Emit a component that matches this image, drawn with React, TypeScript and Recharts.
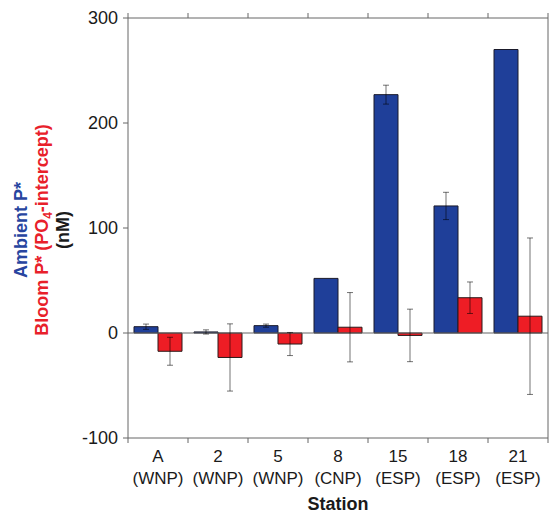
import { BarChart, Bar, XAxis, YAxis, ErrorBar, ReferenceLine } from 'recharts';

const stations = ['A', '2', '5', '8', '15', '18', '21'];
const regions = ['WNP', 'WNP', 'WNP', 'CNP', 'ESP', 'ESP', 'ESP'];
const ambientP = [6, 1, 7, 52, 227, 121, 270];
const ambientErr = [2.5, 2, 1.5, null, 9, 13, null];
const bloomP = [-17.4, -23.3, -10.5, 5.5, -2.3, 33.6, 16];
const bloomErr = [13.3, 32, 11, 33, 25, 15, 74.5];
const yTicks = [-100, 0, 100, 200, 300];

const data = stations.map((station, i) => ({
  station,
  ambient: ambientP[i],
  ambientErr: ambientErr[i],
  bloom: bloomP[i],
  bloomErr: bloomErr[i],
}));

const W = 556;
const H = 526;
const LEFT_W = 128;
const TOP_H = 18;
const RIGHT_W = 8;
const BOTTOM_H = 88;
const PLOT_TOP = TOP_H;
const PLOT_BOTTOM = H - BOTTOM_H;

const FONT = '"Liberation Sans", Arial, sans-serif';
const FRAME = '#666';
const TEXT = '#1a1a1a';
const BLUE = '#1f3f99';
const RED = '#ee1d25';

// category ticks sit on the boundaries between stations, not the centres
function BottomTick(props: any) {
  const { x, payload, index, width, visibleTicksCount } = props;
  const band = width / visibleTicksCount;
  const left = x - band / 2;
  const last = index === visibleTicksCount - 1;
  return (
    <g>
      <line x1={left} x2={left} y1={PLOT_BOTTOM} y2={PLOT_BOTTOM + 5} stroke={FRAME} />
      {last && (
        <line x1={x + band / 2} x2={x + band / 2} y1={PLOT_BOTTOM} y2={PLOT_BOTTOM + 5} stroke={FRAME} />
      )}
      <text textAnchor="middle" fontFamily={FONT} fontSize={17} fill={TEXT}>
        <tspan x={x} y={PLOT_BOTTOM + 24}>{payload.value}</tspan>
        <tspan x={x} y={PLOT_BOTTOM + 46}>({regions[index]})</tspan>
      </text>
    </g>
  );
}

function TopTick(props: any) {
  const { x, index, width, visibleTicksCount } = props;
  const band = width / visibleTicksCount;
  const left = x - band / 2;
  const last = index === visibleTicksCount - 1;
  return (
    <g>
      <line x1={left} x2={left} y1={PLOT_TOP} y2={PLOT_TOP - 5} stroke={FRAME} />
      {last && (
        <line x1={x + band / 2} x2={x + band / 2} y1={PLOT_TOP} y2={PLOT_TOP - 5} stroke={FRAME} />
      )}
    </g>
  );
}

function YLabel() {
  const cy = 230;
  return (
    <g fontFamily={FONT} fontSize={18} fontWeight="bold" textAnchor="middle">
      <text transform="rotate(-90)" x={-cy} y={27} fill="#2745a0">
        Ambient P*
      </text>
      <text transform="rotate(-90)" x={-cy} y={48} fill="#e8202a">
        Bloom P* (PO
        <tspan fontSize={12} dy={4}>4</tspan>
        <tspan dy={-4}>-intercept)</tspan>
      </text>
      <text transform="rotate(-90)" x={-cy} y={69} fill={TEXT}>
        (nM)
      </text>
    </g>
  );
}

function StationLabel() {
  const cx = LEFT_W + (W - LEFT_W - RIGHT_W) / 2;
  return (
    <text x={cx} y={PLOT_BOTTOM + 72} textAnchor="middle" fontFamily={FONT} fontSize={18} fontWeight="bold" fill={TEXT}>
      Station
    </text>
  );
}

export default function App() {
  return (
    <div style={{ position: 'absolute', left: 0, top: 0, background: '#fff' }}>
      <BarChart
        width={W}
        height={H}
        data={data}
        margin={{ top: 0, right: 0, bottom: 0, left: 0 }}
        barCategoryGap="10%"
        barGap={0}
      >
        <XAxis
          dataKey="station"
          height={BOTTOM_H}
          interval={0}
          tickLine={false}
          axisLine={{ stroke: FRAME }}
          tick={BottomTick}
          label={<StationLabel />}
        />
        <XAxis
          xAxisId="top"
          orientation="top"
          dataKey="station"
          height={TOP_H}
          interval={0}
          tickLine={false}
          axisLine={{ stroke: FRAME }}
          tick={TopTick}
        />
        <YAxis
          domain={[-100, 300]}
          ticks={yTicks}
          width={LEFT_W}
          tickSize={5}
          tickMargin={5}
          axisLine={{ stroke: FRAME }}
          tickLine={{ stroke: FRAME }}
          tick={{ fontFamily: FONT, fontSize: 18, fill: TEXT }}
          label={<YLabel />}
        />
        <YAxis
          yAxisId="right"
          orientation="right"
          domain={[-100, 300]}
          ticks={yTicks}
          width={RIGHT_W}
          tickSize={5}
          axisLine={{ stroke: FRAME }}
          tickLine={{ stroke: FRAME }}
          tickFormatter={() => ''}
        />
        <ReferenceLine y={0} stroke={FRAME} />
        <Bar dataKey="ambient" fill={BLUE} stroke="#1a1a2a" strokeWidth={1} isAnimationActive={false}>
          <ErrorBar dataKey="ambientErr" width={3} stroke="rgba(0,0,0,0.55)" strokeWidth={1} direction="y" />
        </Bar>
        <Bar dataKey="bloom" fill={RED} stroke="#2a1a1a" strokeWidth={1} isAnimationActive={false}>
          <ErrorBar dataKey="bloomErr" width={3} stroke="rgba(0,0,0,0.55)" strokeWidth={1} direction="y" />
        </Bar>
      </BarChart>
    </div>
  );
}
